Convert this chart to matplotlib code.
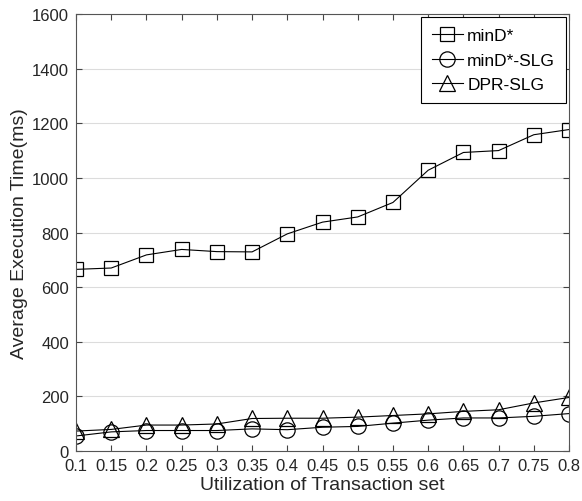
import numpy as np
import matplotlib.pyplot as plt

plt.rcParams['font.family'] = ['Liberation Sans', 'DejaVu Sans']

# utilization levels on the x axis
util = [0.1, 0.15, 0.2, 0.25, 0.3, 0.35, 0.4, 0.45, 0.5, 0.55, 0.6, 0.65, 0.7, 0.75, 0.8]
util_labels = ['0.1', '0.15', '0.2', '0.25', '0.3', '0.35', '0.4', '0.45', '0.5', '0.55',
               '0.6', '0.65', '0.7', '0.75', '0.8']

# average execution time (ms)
mind = [665, 670, 718, 738, 730, 729, 795, 838, 857, 910, 1028, 1093, 1100, 1158, 1177]
mind_slg = [55, 70, 75, 75, 75, 81, 78, 87, 90, 102, 113, 121, 121, 127, 137]
dpr_slg = [73, 79, 95, 95, 99, 119, 120, 120, 124, 130, 136, 145, 151, 176, 196]

fig = plt.figure(figsize=(5.82, 5.02), dpi=100)
ax = fig.add_axes([0.1306, 0.0996, 0.8471, 0.8705])

ax.plot(util, mind, color='black', lw=0.8, marker='s', ms=10, mfc='none', mec='black', mew=0.9, label='minD*')
ax.plot(util, mind_slg, color='black', lw=0.8, marker='o', ms=11, mfc='none', mec='black', mew=0.9, label='minD*-SLG')
ax.plot(util, dpr_slg, color='black', lw=0.8, marker='^', ms=11, mfc='none', mec='black', mew=0.9, label='DPR-SLG')

ax.set_xlim(0.1, 0.8)
ax.set_ylim(0, 1600)
ax.set_xticks(util)
ax.set_xticklabels(util_labels)
ax.set_yticks(np.arange(0, 1601, 200))
ax.grid(axis='y', color='#dcdcdc', lw=0.8)
ax.set_axisbelow(True)

ax.tick_params(direction='in', length=4, color='#444444', labelsize=12, labelcolor='#262626',
               top=True, right=True, pad=5)
for s in ax.spines.values():
    s.set_color('#555555')
    s.set_linewidth(0.8)

ax.set_xlabel('Utilization of Transaction set', fontsize=14, color='#262626', labelpad=2)
ax.set_ylabel('Average Execution Time(ms)', fontsize=14, color='#262626', labelpad=3)

leg = ax.legend(loc='upper right', fontsize=12.5, fancybox=False, framealpha=1,
                edgecolor='black', handlelength=1.8, borderaxespad=0.2,
                labelspacing=0.55, handletextpad=0.25, borderpad=0.6)
leg.get_frame().set_linewidth(0.8)

fig.savefig('out.png', dpi=100)
